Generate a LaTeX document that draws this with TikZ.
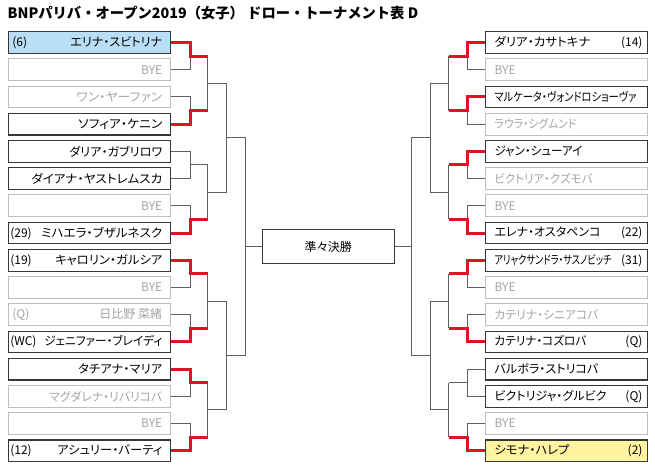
\documentclass[tikz,border=0pt]{standalone}
\usepackage{graphicx}
\usepackage{fontspec}
\setmainfont{Noto Sans CJK JP}
\newfontfamily\jpp{Noto Sans CJK JP}[RawFeature=+palt]
\usetikzlibrary{calc}
\definecolor{redline}{RGB}{222,20,38}
\definecolor{linegray}{RGB}{95,95,95}
\definecolor{boxdark}{RGB}{55,55,55}
\definecolor{boxlight}{RGB}{190,190,190}
\definecolor{textgray}{RGB}{165,165,165}
\definecolor{seedblue}{RGB}{185,222,245}
\definecolor{seedyellow}{RGB}{255,245,160}
\newcommand{\nm}[2]{\resizebox{#1pt}{\height}{#2}}
\newcommand{\lentry}[5]{\node[#2] (L#1) at (89.3,#3) {\makebox[162pt]{\hspace*{2pt}#4\hfill #5\hspace*{8pt}}};}
\newcommand{\rentry}[5]{\node[#2] (R#1) at (566.5,#3) {\makebox[162pt]{\hspace*{9pt}#4\hfill #5\hspace*{5pt}}};}
\begin{document}
\begin{tikzpicture}[x=1pt,y=-1pt,
  entrybox/.style={minimum width=162pt,minimum height=21.7pt,inner sep=0pt,
    font=\jpp\fontsize{12}{14}\selectfont},
  dk/.style={entrybox,draw=boxdark,line width=1.1pt,text=black},
  lt/.style={entrybox,draw=boxlight,line width=1pt,text=textgray},
  win/.style={draw=redline,line width=3pt},
  lose/.style={draw=linegray,line width=1pt},
  qfbox/.style={draw=boxdark,line width=1pt,minimum width=132pt,minimum height=34.3pt,
    inner sep=0pt,font=\jpp\fontsize{12}{14}\selectfont},
  titlestyle/.style={anchor=west,inner sep=0pt,font=\bfseries\fontsize{14.3}{16}\selectfont}]
\useasboundingbox (0,0) rectangle (655,470);
\fill[white] (0,0) rectangle (655,470);
\node[titlestyle] (title) at (7.5,13.5) {BNPパリバ・オープン2019（女子） ドロー・トーナメント表 D};
% left entries
\lentry{0}{dk,fill=seedblue}{42.50}{\hspace*{2pt}(6)}{\nm{92}{エリナ・スビトリナ}}
\lentry{1}{lt}{69.72}{}{BYE}
\lentry{2}{lt}{96.94}{}{\nm{86}{ワン・ヤーファン}}
\lentry{3}{dk}{124.16}{}{\nm{84}{ソフィア・ケニン}}
\lentry{4}{dk}{151.38}{}{\nm{93}{ダリア・ガブリロワ}}
\lentry{5}{dk}{178.60}{}{\nm{131}{ダイアナ・ヤストレムスカ}}
\lentry{6}{lt}{205.82}{}{BYE}
\lentry{7}{dk}{233.04}{(29)}{\nm{121}{ミハエラ・ブザルネスク}}
\lentry{8}{dk}{260.26}{(19)}{\nm{107}{キャロリン・ガルシア}}
\lentry{9}{lt}{287.48}{}{BYE}
\lentry{10}{lt}{314.70}{\hspace*{2pt}(Q)}{\nm{63}{日比野 菜緒}}
\lentry{11}{dk}{341.92}{(WC)}{\nm{118}{ジェニファー・ブレイディ}}
\lentry{12}{dk}{369.14}{}{\nm{84}{タチアナ・マリア}}
\lentry{13}{lt}{396.36}{}{\nm{113}{マグダレナ・リバリコバ}}
\lentry{14}{lt}{423.58}{}{BYE}
\lentry{15}{dk}{450.80}{(12)}{\nm{105}{アシュリー・バーティ}}
% right entries
\rentry{0}{dk}{42.50}{\nm{96}{ダリア・カサトキナ}}{(14)}
\rentry{1}{lt}{69.72}{BYE}{}
\rentry{2}{dk}{96.94}{\nm{142}{マルケータ・ヴォンドロショーヴァ}}{}
\rentry{3}{lt}{124.16}{\nm{82}{ラウラ・シグムンド}}{}
\rentry{4}{dk}{151.38}{\nm{88}{ジャン・シューアイ}}{}
\rentry{5}{lt}{178.60}{\nm{98}{ビクトリア・クズモバ}}{}
\rentry{6}{lt}{205.82}{BYE}{}
\rentry{7}{dk}{233.04}{\nm{106}{エレナ・オスタペンコ}}{(22)}
\rentry{8}{dk}{260.26}{\nm{117}{アリャクサンドラ・サスノビッチ}}{(31)}
\rentry{9}{lt}{287.48}{BYE}{}
\rentry{10}{lt}{314.70}{\nm{104}{カテリナ・シニアコバ}}{}
\rentry{11}{dk}{341.92}{\nm{92}{カテリナ・コズロバ}}{(Q)}
\rentry{12}{dk}{369.14}{\nm{104}{バルボラ・ストリコバ}}{}
\rentry{13}{dk}{396.36}{\nm{112}{ビクトリジャ・グルビク}}{(Q)}
\rentry{14}{lt}{423.58}{BYE}{}
\rentry{15}{dk,fill=seedyellow}{450.80}{\nm{75}{シモナ・ハレプ}}{(2)}
% quarterfinal box
\node[qfbox] (QF) at (328.3,246.65) {準々決勝};
% junction coordinates
\foreach \m in {0,...,7}{
  \coordinate (LA\m) at (190,{56.11+54.44*\m});
  \coordinate (LB\m) at (207.5,{56.11+54.44*\m});
  \coordinate (RA\m) at (467.3,{56.11+54.44*\m});
  \coordinate (RB\m) at (448.7,{56.11+54.44*\m});
}
\foreach \k in {0,...,3}{
  \coordinate (LC\k) at (226.7,{83.33+108.88*\k});
  \coordinate (RC\k) at (430,{83.33+108.88*\k});
}
\foreach \j in {0,1}{
  \coordinate (LD\j) at (245.7,{137.77+217.76*\j});
  \coordinate (RD\j) at (411,{137.77+217.76*\j});
}
% gray: losers of first round
\foreach \m/\l in {0/1,1/2,3/6,4/9,5/10,6/13,7/14}{
  \draw[lose] (L\l.east) -| (LA\m);
}
\foreach \m/\l in {0/1,1/3,2/5,3/6,4/9,5/10,7/14}{
  \draw[lose] (R\l.west) -| (RA\m);
}
% unplayed first-round matches
\draw[lose] (L4.east) -| (LA2) -- (LB2);
\draw[lose] (L5.east) -| (LA2);
\draw[lose] (R12.west) -| (RA6) -- (RB6);
\draw[lose] (R13.west) -| (RA6);
% later rounds
\foreach \k/\a/\b in {0/0/1,1/2/3,2/4/5,3/6/7}{
  \draw[lose] (LB\a) -- (LB\b) (LC\k) -- (LC\k -| LB\a);
  \draw[lose] (RB\a) -- (RB\b) (RC\k) -- (RC\k -| RB\a);
}
\foreach \j/\a/\b in {0/0/1,1/2/3}{
  \draw[lose] (LC\a) -- (LC\b) (LD\j) -- (LD\j -| LC\a);
  \draw[lose] (RC\a) -- (RC\b) (RD\j) -- (RD\j -| RC\a);
}
\draw[lose] (LD0) -- (LD1) (QF.west) -- (QF.west -| LD0);
\draw[lose] (RD0) -- (RD1) (QF.east) -- (QF.east -| RD0);
% red: winners of first round
\foreach \m/\w in {0/0,1/3,3/7,4/8,5/11,6/12,7/15}{
  \draw[win] (L\w.east) -| (LA\m) -- (LB\m);
}
\foreach \m/\w in {0/0,1/2,2/4,3/7,4/8,5/11,7/15}{
  \draw[win] (R\w.west) -| (RA\m) -- (RB\m);
}
\end{tikzpicture}
\end{document}
